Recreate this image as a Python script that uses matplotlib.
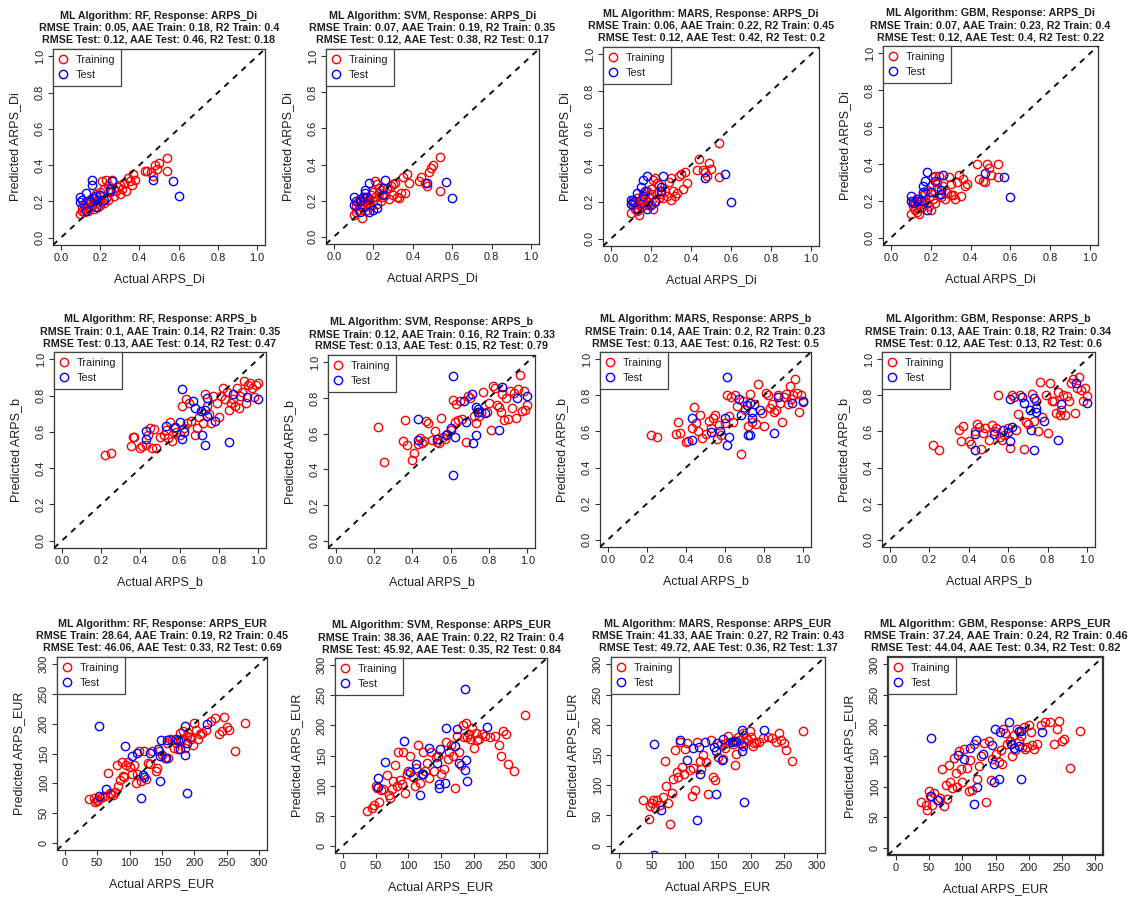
import numpy as np
import matplotlib
matplotlib.use('Agg')
from matplotlib import pyplot as plt

plt.rcParams['font.family'] = ['Liberation Sans', 'DejaVu Sans']

algorithms = ['RF', 'SVM', 'MARS', 'GBM']
responses = ['ARPS_Di', 'ARPS_b', 'ARPS_EUR']

# ---- ARPS_Di ----
di_train_actual = [0.10, 0.11, 0.11, 0.12, 0.12, 0.13, 0.13, 0.14, 0.14, 0.15,
                   0.15, 0.16, 0.16, 0.17, 0.17, 0.18, 0.18, 0.19, 0.19, 0.20,
                   0.20, 0.21, 0.21, 0.22, 0.22, 0.23, 0.23, 0.24, 0.24, 0.25,
                   0.26, 0.27, 0.28, 0.29, 0.30, 0.30, 0.31, 0.32, 0.33, 0.34,
                   0.35, 0.36, 0.37, 0.38, 0.43, 0.44, 0.46, 0.47, 0.48, 0.49,
                   0.50, 0.54, 0.54]
di_rf_train = [0.13, 0.15, 0.17, 0.14, 0.18, 0.16, 0.19, 0.15, 0.20, 0.17,
               0.21, 0.18, 0.22, 0.16, 0.20, 0.19, 0.24, 0.17, 0.21, 0.18,
               0.25, 0.20, 0.31, 0.19, 0.27, 0.22, 0.32, 0.21, 0.29, 0.25,
               0.32, 0.23, 0.26, 0.28, 0.24, 0.29, 0.27, 0.30, 0.26, 0.33,
               0.31, 0.29, 0.35, 0.32, 0.37, 0.37, 0.36, 0.34, 0.40, 0.38,
               0.41, 0.44, 0.37]
di_svm_train = [0.12, 0.17, 0.14, 0.19, 0.15, 0.17, 0.21, 0.105, 0.18, 0.16,
                0.20, 0.17, 0.22, 0.18, 0.15, 0.21, 0.19, 0.23, 0.17, 0.20,
                0.25, 0.31, 0.22, 0.29, 0.18, 0.24, 0.27, 0.20, 0.26, 0.22,
                0.23, 0.27, 0.21, 0.28, 0.23, 0.29, 0.30, 0.22, 0.215, 0.245,
                0.33, 0.24, 0.345, 0.30, 0.31, 0.33, 0.30, 0.28, 0.36, 0.38,
                0.395, 0.44, 0.255]
di_mars_train = [0.14, 0.18, 0.21, 0.16, 0.20, 0.15, 0.22, 0.13, 0.19, 0.17,
                 0.21, 0.20, 0.24, 0.18, 0.22, 0.20, 0.26, 0.22, 0.18, 0.24,
                 0.27, 0.16, 0.32, 0.33, 0.20, 0.25, 0.30, 0.22, 0.29, 0.24,
                 0.22, 0.26, 0.23, 0.31, 0.21, 0.33, 0.26, 0.23, 0.25, 0.34,
                 0.35, 0.27, 0.36, 0.30, 0.37, 0.43, 0.375, 0.36, 0.34, 0.41,
                 0.38, 0.52, 0.335]
di_gbm_train = [0.13, 0.17, 0.20, 0.15, 0.19, 0.14, 0.21, 0.13, 0.18, 0.16,
                0.20, 0.18, 0.23, 0.20, 0.24, 0.19, 0.26, 0.22, 0.17, 0.15,
                0.28, 0.33, 0.21, 0.335, 0.19, 0.27, 0.30, 0.23, 0.335, 0.22,
                0.28, 0.21, 0.24, 0.33, 0.23, 0.29, 0.23, 0.21, 0.30, 0.34,
                0.225, 0.32, 0.28, 0.29, 0.40, 0.32, 0.31, 0.30, 0.40, 0.38,
                0.34, 0.40, 0.33]
di_test_actual = [0.10, 0.10, 0.11, 0.13, 0.13, 0.15, 0.16, 0.16, 0.17, 0.18,
                  0.18, 0.20, 0.22, 0.25, 0.25, 0.26, 0.47, 0.57, 0.60]
di_rf_test = [0.225, 0.195, 0.21, 0.245, 0.145, 0.195, 0.32, 0.29, 0.22, 0.23,
              0.17, 0.235, 0.21, 0.27, 0.26, 0.31, 0.32, 0.31, 0.23]
di_svm_test = [0.22, 0.175, 0.20, 0.14, 0.20, 0.22, 0.26, 0.24, 0.22, 0.30,
               0.14, 0.15, 0.16, 0.27, 0.23, 0.315, 0.30, 0.305, 0.215]
di_mars_test = [0.21, 0.19, 0.20, 0.245, 0.16, 0.28, 0.32, 0.23, 0.26, 0.34,
                0.16, 0.18, 0.205, 0.28, 0.26, 0.34, 0.33, 0.35, 0.20]
di_gbm_test = [0.225, 0.20, 0.19, 0.21, 0.20, 0.20, 0.28, 0.25, 0.305, 0.357,
               0.15, 0.25, 0.305, 0.26, 0.235, 0.34, 0.35, 0.33, 0.22]

# ---- ARPS_b ----
b_train_actual = [0.22, 0.25, 0.35, 0.36, 0.37, 0.40, 0.41, 0.43, 0.44, 0.45,
                  0.46, 0.47, 0.48, 0.50, 0.52, 0.53, 0.54, 0.55, 0.56, 0.57,
                  0.58, 0.60, 0.61, 0.62, 0.63, 0.64, 0.65, 0.66, 0.68, 0.69,
                  0.70, 0.72, 0.73, 0.74, 0.75, 0.76, 0.77, 0.79, 0.80, 0.81,
                  0.82, 0.83, 0.84, 0.85, 0.86, 0.87, 0.88, 0.89, 0.90, 0.91,
                  0.92, 0.93, 0.94, 0.95, 0.96, 0.97, 0.98, 0.99, 1.00]
b_rf_train = [0.475, 0.485, 0.52, 0.57, 0.57, 0.51, 0.52, 0.53, 0.58, 0.62,
              0.51, 0.615, 0.51, 0.57, 0.585, 0.61, 0.565, 0.655, 0.55, 0.62,
              0.60, 0.58, 0.74, 0.62, 0.78, 0.65, 0.76, 0.66, 0.58, 0.62,
              0.68, 0.65, 0.81, 0.74, 0.70, 0.65, 0.80, 0.76, 0.68, 0.80,
              0.84, 0.78, 0.82, 0.72, 0.76, 0.78, 0.74, 0.84, 0.73, 0.80,
              0.82, 0.88, 0.76, 0.86, 0.87, 0.84, 0.79, 0.86, 0.87]
b_svm_train = [0.635, 0.44, 0.56, 0.675, 0.535, 0.455, 0.49, 0.54, 0.575, 0.545,
               0.56, 0.67, 0.66, 0.565, 0.615, 0.555, 0.545, 0.685, 0.58, 0.57,
               0.60, 0.62, 0.79, 0.665, 0.765, 0.675, 0.78, 0.68, 0.555, 0.81,
               0.80, 0.70, 0.66, 0.72, 0.70, 0.72, 0.835, 0.72, 0.77, 0.62,
               0.865, 0.855, 0.76, 0.75, 0.72, 0.82, 0.675, 0.80, 0.68, 0.84,
               0.745, 0.83, 0.685, 0.85, 0.93, 0.725, 0.84, 0.735, 0.76]
b_mars_train = [0.58, 0.57, 0.585, 0.65, 0.59, 0.54, 0.545, 0.62, 0.735, 0.645,
                0.60, 0.69, 0.565, 0.585, 0.66, 0.62, 0.675, 0.69, 0.56, 0.635,
                0.58, 0.645, 0.80, 0.685, 0.79, 0.655, 0.80, 0.74, 0.475, 0.77,
                0.72, 0.63, 0.81, 0.65, 0.75, 0.64, 0.865, 0.70, 0.63, 0.815,
                0.80, 0.73, 0.75, 0.71, 0.72, 0.80, 0.76, 0.655, 0.79, 0.81,
                0.75, 0.85, 0.78, 0.80, 0.89, 0.815, 0.71, 0.80, 0.765]
b_gbm_train = [0.525, 0.50, 0.61, 0.545, 0.63, 0.545, 0.53, 0.605, 0.64, 0.625,
               0.505, 0.59, 0.62, 0.55, 0.635, 0.605, 0.62, 0.80, 0.57, 0.555,
               0.58, 0.62, 0.51, 0.80, 0.79, 0.61, 0.695, 0.80, 0.505, 0.65,
               0.64, 0.81, 0.66, 0.77, 0.605, 0.875, 0.68, 0.80, 0.59, 0.87,
               0.77, 0.77, 0.70, 0.82, 0.69, 0.72, 0.80, 0.69, 0.795, 0.77,
               0.87, 0.89, 0.70, 0.84, 0.90, 0.83, 0.77, 0.84, 0.795]
b_test_actual = [0.43, 0.43, 0.53, 0.575, 0.60, 0.61, 0.61, 0.62, 0.67, 0.68,
                 0.71, 0.715, 0.73, 0.73, 0.74, 0.74, 0.78, 0.85, 0.87, 0.945, 1.00]
b_rf_test = [0.607, 0.56, 0.63, 0.625, 0.655, 0.835, 0.56, 0.60, 0.77, 0.73,
             0.715, 0.585, 0.72, 0.53, 0.785, 0.69, 0.66, 0.545, 0.81, 0.79, 0.78]
b_svm_test = [0.68, 0.565, 0.57, 0.59, 0.63, 0.92, 0.37, 0.58, 0.78, 0.665,
              0.82, 0.55, 0.75, 0.59, 0.72, 0.74, 0.715, 0.62, 0.86, 0.80, 0.81]
b_mars_test = [0.675, 0.55, 0.595, 0.605, 0.675, 0.90, 0.527, 0.567, 0.78, 0.69,
               0.745, 0.58, 0.76, 0.58, 0.71, 0.675, 0.72, 0.59, 0.79, 0.76, 0.77]
b_gbm_test = [0.585, 0.495, 0.585, 0.607, 0.595, 0.78, 0.545, 0.625, 0.79, 0.755,
              0.72, 0.61, 0.785, 0.50, 0.71, 0.73, 0.66, 0.553, 0.75, 0.87, 0.755]

# ---- ARPS_EUR ----
eur_train_actual = [37, 45, 47, 50, 52, 55, 58, 62, 67, 70,
                    72, 75, 77, 80, 82, 85, 88, 90, 92, 95,
                    98, 100, 103, 107, 110, 112, 115, 118, 122, 125,
                    128, 132, 135, 140, 143, 145, 150, 155, 158, 160,
                    162, 165, 168, 172, 175, 178, 180, 183, 185, 188,
                    190, 193, 195, 198, 200, 203, 205, 208, 212, 218,
                    225, 232, 238, 242, 245, 250, 253, 262, 278]
eur_rf_train = [73, 76, 68, 70, 72, 75, 77, 78, 117, 84,
                82, 80, 85, 131, 95, 105, 135, 112, 110, 131,
                136, 128, 115, 130, 100, 116, 155, 103, 155, 108,
                134, 133, 155, 120, 125, 155, 148, 143, 168, 143,
                175, 172, 160, 168, 158, 185, 172, 188, 160, 180,
                185, 178, 175, 165, 202, 190, 175, 183, 185, 190,
                205, 210, 183, 188, 212, 195, 190, 155, 201]
eur_svm_train = [57, 62, 68, 100, 96, 72, 93, 95, 118, 85,
                 80, 95, 108, 134, 100, 155, 109, 102, 155, 88,
                 120, 125, 150, 115, 100, 130, 167, 104, 155, 125,
                 137, 113, 155, 124, 148, 150, 120, 128, 172, 145,
                 155, 167, 150, 96, 182, 155, 135, 200, 180, 204,
                 180, 185, 178, 195, 162, 188, 175, 178, 185, 182,
                 180, 182, 168, 150, 190, 185, 136, 124, 217]
eur_mars_train = [75, 45, 65, 70, 75, 63, 75, 68, 80, 140,
                  98, 70, 36, 88, 110, 158, 122, 113, 172, 130,
                  118, 160, 170, 125, 82, 128, 92, 172, 140, 127,
                  150, 138, 86, 175, 114, 108, 147, 168, 143, 162,
                  170, 182, 172, 168, 133, 152, 180, 175, 168, 186,
                  172, 178, 175, 190, 180, 165, 170, 172, 172, 178,
                  180, 178, 172, 186, 175, 170, 158, 140, 189]
eur_gbm_train = [74, 70, 62, 93, 84, 70, 90, 78, 82, 128,
                 68, 102, 80, 136, 107, 98, 147, 123, 100, 158,
                 128, 108, 162, 130, 92, 143, 95, 170, 112, 133,
                 150, 172, 75, 175, 110, 145, 153, 140, 160, 137,
                 195, 188, 170, 175, 150, 185, 160, 195, 175, 182,
                 165, 198, 162, 165, 200, 190, 168, 162, 170, 200,
                 205, 205, 170, 195, 208, 175, 178, 130, 191]
eur_test_actual = [53, 53, 64, 93, 103, 112, 118, 121, 122, 131, 144, 147,
                   147, 149, 156, 157, 171, 174, 178, 186, 186, 188, 189, 220]
eur_rf_test = [197, 79, 91, 162, 146, 151, 76, 114, 111, 151, 157, 103,
               146, 172, 142, 172, 174, 172, 157, 197, 147, 168, 83, 200]
eur_svm_test = [113, 97, 140, 174, 123, 136, 84, 119, 120, 163, 138, 96,
                103, 160, 105, 196, 165, 194, 137, 126, 260, 142, 108, 198]
eur_mars_test = [168, -15, 59, 175, 141, 162, 43, 164, 118, 172, 164, 85,
                 157, 170, 142, 176, 172, 173, 173, 192, 157, 165, 73, 192]
eur_gbm_test = [179, 84, 78, 152, 145, 163, 71, 176, 99, 154, 168, 108,
                137, 195, 113, 189, 205, 169, 163, 191, 166, 191, 113, 190]

metrics = [
    ["RMSE Train: 0.05, AAE Train: 0.18, R2 Train: 0.4", "RMSE Test: 0.12, AAE Test: 0.46, R2 Test: 0.18"],
    ["RMSE Train: 0.07, AAE Train: 0.19, R2 Train: 0.35", "RMSE Test: 0.12, AAE Test: 0.38, R2 Test: 0.17"],
    ["RMSE Train: 0.06, AAE Train: 0.22, R2 Train: 0.45", "RMSE Test: 0.12, AAE Test: 0.42, R2 Test: 0.2"],
    ["RMSE Train: 0.07, AAE Train: 0.23, R2 Train: 0.4", "RMSE Test: 0.12, AAE Test: 0.4, R2 Test: 0.22"],
    ["RMSE Train: 0.1, AAE Train: 0.14, R2 Train: 0.35", "RMSE Test: 0.13, AAE Test: 0.14, R2 Test: 0.47"],
    ["RMSE Train: 0.12, AAE Train: 0.16, R2 Train: 0.33", "RMSE Test: 0.13, AAE Test: 0.15, R2 Test: 0.79"],
    ["RMSE Train: 0.14, AAE Train: 0.2, R2 Train: 0.23", "RMSE Test: 0.13, AAE Test: 0.16, R2 Test: 0.5"],
    ["RMSE Train: 0.13, AAE Train: 0.18, R2 Train: 0.34", "RMSE Test: 0.12, AAE Test: 0.13, R2 Test: 0.6"],
    ["RMSE Train: 28.64, AAE Train: 0.19, R2 Train: 0.45", "RMSE Test: 46.06, AAE Test: 0.33, R2 Test: 0.69"],
    ["RMSE Train: 38.36, AAE Train: 0.22, R2 Train: 0.4", "RMSE Test: 45.92, AAE Test: 0.35, R2 Test: 0.84"],
    ["RMSE Train: 41.33, AAE Train: 0.27, R2 Train: 0.43", "RMSE Test: 49.72, AAE Test: 0.36, R2 Test: 1.37"],
    ["RMSE Train: 37.24, AAE Train: 0.24, R2 Train: 0.46", "RMSE Test: 44.04, AAE Test: 0.34, R2 Test: 0.82"],
]

actual = {'ARPS_Di': (di_train_actual, di_test_actual),
          'ARPS_b': (b_train_actual, b_test_actual),
          'ARPS_EUR': (eur_train_actual, eur_test_actual)}
predicted = {
    ('ARPS_Di', 'RF'): (di_rf_train, di_rf_test), ('ARPS_Di', 'SVM'): (di_svm_train, di_svm_test),
    ('ARPS_Di', 'MARS'): (di_mars_train, di_mars_test), ('ARPS_Di', 'GBM'): (di_gbm_train, di_gbm_test),
    ('ARPS_b', 'RF'): (b_rf_train, b_rf_test), ('ARPS_b', 'SVM'): (b_svm_train, b_svm_test),
    ('ARPS_b', 'MARS'): (b_mars_train, b_mars_test), ('ARPS_b', 'GBM'): (b_gbm_train, b_gbm_test),
    ('ARPS_EUR', 'RF'): (eur_rf_train, eur_rf_test), ('ARPS_EUR', 'SVM'): (eur_svm_train, eur_svm_test),
    ('ARPS_EUR', 'MARS'): (eur_mars_train, eur_mars_test), ('ARPS_EUR', 'GBM'): (eur_gbm_train, eur_gbm_test),
}

# panel boxes in pixels: left, top, right, bottom
boxes = [(53, 49, 265, 245), (326, 49, 539, 244), (603, 47, 819, 246), (883, 46, 1098, 245),
         (54, 352, 266, 548), (328, 355, 535, 548), (600, 352, 811, 547), (882, 352, 1095, 547),
         (57, 657, 267, 850), (335, 658, 547, 853), (611, 657, 825, 853), (888, 657, 1103, 855)]

W, H = 1128, 902
fig = plt.figure(figsize=(W / 100, H / 100), dpi=100)
txt = '#1f1f1f'

for i, (l, t, r, b) in enumerate(boxes):
    resp = responses[i // 4]
    alg = algorithms[i % 4]
    ax = fig.add_axes([l / W, 1 - b / H, (r - l) / W, (b - t) / H])
    xtr, xte = actual[resp]
    ytr, yte = predicted[(resp, alg)]
    ax.plot(xtr, ytr, 'o', mfc='none', mec='#ff0000', ms=6.0, mew=1.0, label='Training')
    ax.plot(xte, yte, 'o', mfc='none', mec='#0000ff', ms=6.0, mew=1.0, label='Test')
    ax.axline((0, 0), (1, 1), color='#111111', lw=1.4, ls=(0, (3.0, 3.0)), zorder=3)

    if resp == 'ARPS_EUR':
        ax.set_xlim(-12, 312)
        ax.set_ylim(-12, 312)
        ticks = np.arange(0, 301, 50)
        labels = [str(v) for v in ticks]
    else:
        ax.set_xlim(-0.04, 1.04)
        ax.set_ylim(-0.04, 1.04)
        ticks = np.arange(0, 1.01, 0.2)
        labels = ['%.1f' % v for v in ticks]
    ax.set_xticks(ticks, labels)
    ax.set_yticks(ticks, labels)
    plt.setp(ax.get_yticklabels(), rotation=90, va='center')
    ax.tick_params(direction='out', length=3.6, width=0.8, labelsize=7.9, pad=2.3,
                   colors='#333333', labelcolor=txt)
    for s in ax.spines.values():
        s.set_color('#333333')
        s.set_linewidth(1.6 if i == 11 else 0.9)

    w, h = r - l, b - t
    ax.set_xlabel('Actual ' + resp, fontsize=9, color=txt, va='center')
    ax.xaxis.set_label_coords(0.5, -34 / h)
    ax.set_ylabel('Predicted ' + resp, fontsize=9, color=txt, va='center')
    ax.yaxis.set_label_coords(-38 / w, 0.5)

    leg = ax.legend(loc='upper left', borderaxespad=0, fancybox=False, framealpha=1,
                    edgecolor='#444444', fontsize=7.8, handlelength=0.8, handletextpad=0.7,
                    borderpad=0.55, labelspacing=0.45)
    leg.get_frame().set_linewidth(0.9)
    for tx in leg.get_texts():
        tx.set_color(txt)

    cx = (l + r) / 2 / W
    fs = 8.0 if i == 11 else 7.7
    lines = ['ML Algorithm: %s, Response: %s' % (alg, resp)] + metrics[i]
    for k, line in enumerate(lines):
        fig.text(cx, 1 - (t - 33 + 12 * k) / H, line, ha='center', va='center',
                 fontsize=fs, fontweight='bold', color=txt)

fig.savefig('out.png', dpi=100)
